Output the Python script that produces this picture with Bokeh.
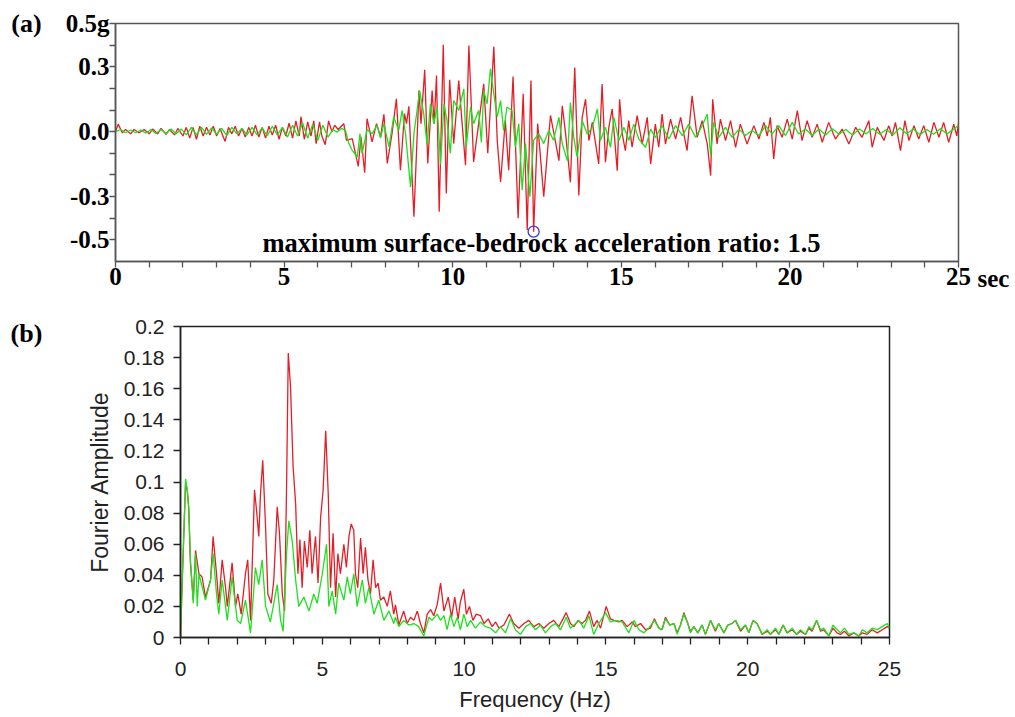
from bokeh.plotting import figure
from bokeh.models import Range1d, SingleIntervalTicker, CustomJSTickFormatter, Label
from bokeh.embed import file_html
from bokeh.resources import INLINE

RED = "#e41e26"
GREEN = "#1ee01e"

# (a) acceleration time histories, (time [s], acceleration [g]) turning points
surface_acc = [
    (0.00, 0.000), (0.08, 0.035), (0.20, -0.005), (0.30, 0.010), (0.45, -0.010), (0.55, 0.010),
    (0.70, -0.005), (0.85, 0.010), (1.00, -0.010), (1.10, 0.012), (1.25, -0.010), (1.35, 0.015),
    (1.50, -0.012), (1.60, 0.010), (1.75, -0.015), (1.85, 0.015), (2.00, -0.020), (2.10, 0.020),
    (2.20, -0.030), (2.30, 0.020), (2.40, -0.035), (2.50, 0.025), (2.60, -0.020), (2.70, 0.020),
    (2.80, -0.015), (2.90, 0.025), (3.00, -0.020), (3.10, 0.015), (3.25, -0.045), (3.35, 0.020),
    (3.45, -0.010), (3.55, 0.025), (3.65, -0.020), (3.75, 0.015), (3.85, -0.025), (3.95, 0.020),
    (4.05, -0.020), (4.15, 0.030), (4.25, -0.025), (4.35, 0.020), (4.45, -0.030), (4.55, 0.025),
    (4.65, -0.015), (4.75, 0.030), (4.85, -0.035), (4.95, 0.020), (5.05, -0.020), (5.15, 0.040),
    (5.25, -0.030), (5.35, 0.050), (5.45, -0.020), (5.50, 0.070), (5.60, -0.035), (5.70, 0.045),
    (5.80, -0.020), (5.88, 0.050), (5.95, -0.055), (6.05, 0.045), (6.12, -0.020), (6.22, -0.060),
    (6.32, 0.050), (6.42, 0.000), (6.50, 0.030), (6.60, 0.010), (6.77, 0.037), (6.85, -0.040),
    (7.02, -0.032), (7.20, -0.160), (7.28, -0.024), (7.39, -0.190), (7.46, 0.060), (7.61, -0.047),
    (7.74, 0.037), (7.86, -0.024), (7.96, 0.080), (8.06, -0.147), (8.20, -0.009), (8.33, 0.152),
    (8.45, -0.178), (8.57, 0.083), (8.63, 0.037), (8.70, 0.117), (8.85, -0.393), (9.00, 0.190),
    (9.06, 0.037), (9.17, 0.286), (9.26, -0.147), (9.39, 0.190), (9.45, 0.037), (9.52, 0.260),
    (9.60, -0.370), (9.72, 0.402), (9.81, -0.286), (9.91, 0.240), (10.03, -0.055), (10.18, 0.236),
    (10.28, 0.037), (10.38, -0.155), (10.48, 0.398), (10.62, -0.140), (10.77, 0.037), (10.92, 0.221),
    (11.04, -0.100), (11.22, 0.393), (11.32, -0.040), (11.42, -0.232), (11.56, 0.052), (11.66, -0.178),
    (11.79, 0.255), (11.94, -0.400), (12.09, 0.175), (12.21, -0.454), (12.32, 0.236), (12.40, -0.462),
    (12.52, 0.037), (12.70, -0.301), (12.90, 0.075), (13.04, -0.040), (13.15, -0.134), (13.25, 0.120),
    (13.35, -0.011), (13.49, -0.234), (13.62, 0.296), (13.74, -0.295), (13.84, 0.066), (13.94, 0.150),
    (14.04, -0.041), (14.14, 0.043), (14.33, -0.149), (14.43, 0.220), (14.53, -0.141), (14.63, 0.020),
    (14.73, 0.105), (14.88, -0.180), (14.95, 0.150), (15.03, -0.011), (15.12, -0.088), (15.22, 0.051),
    (15.32, -0.072), (15.47, 0.074), (15.62, -0.057), (15.77, 0.066), (15.87, -0.149), (16.01, 0.035),
    (16.11, -0.072), (16.21, 0.081), (16.31, -0.057), (16.46, 0.058), (16.61, -0.034), (16.76, 0.066),
    (16.95, -0.088), (17.10, 0.166), (17.25, -0.026), (17.40, 0.051), (17.55, -0.057), (17.65, -0.203),
    (17.71, 0.150), (17.84, -0.057), (17.94, 0.058), (18.09, -0.041), (18.24, 0.051), (18.39, -0.072),
    (18.53, 0.035), (18.73, -0.057), (18.93, 0.028), (19.08, -0.034), (19.23, 0.043), (19.33, -0.020),
    (19.42, 0.066), (19.52, -0.126), (19.62, 0.028), (19.77, -0.026), (19.92, 0.058), (20.07, -0.034),
    (20.22, 0.097), (20.36, -0.041), (20.51, 0.051), (20.66, -0.026), (20.81, 0.035), (20.96, -0.049),
    (21.15, 0.043), (21.35, -0.034), (21.55, 0.012), (21.75, -0.057), (21.95, 0.020), (22.14, -0.026),
    (22.34, 0.051), (22.44, -0.072), (22.59, 0.020), (22.79, -0.041), (22.93, 0.028), (23.03, -0.020),
    (23.13, 0.043), (23.28, -0.088), (23.41, 0.051), (23.53, -0.041), (23.68, 0.028), (23.82, -0.034),
    (23.97, 0.028), (24.12, -0.049), (24.27, 0.043), (24.42, -0.026), (24.56, 0.043), (24.71, -0.049),
    (24.86, 0.035), (24.95, -0.020), (25.00, 0.040),
]

bedrock_acc = [
    (0.00, 0.000), (0.15, 0.010), (0.30, -0.005), (0.45, 0.008), (0.60, -0.005), (0.75, 0.008),
    (0.90, -0.006), (1.05, 0.010), (1.20, -0.008), (1.35, 0.010), (1.50, -0.008), (1.65, 0.012),
    (1.80, -0.010), (1.95, 0.012), (2.10, -0.015), (2.25, 0.020), (2.40, -0.015), (2.55, 0.020),
    (2.70, -0.012), (2.85, 0.018), (3.00, -0.012), (3.15, 0.015), (3.30, -0.018), (3.45, 0.020),
    (3.60, -0.010), (3.75, 0.015), (3.90, -0.015), (4.05, 0.020), (4.20, -0.015), (4.35, 0.018),
    (4.50, -0.020), (4.65, 0.025), (4.80, -0.015), (4.95, 0.020), (5.10, -0.025), (5.25, 0.030),
    (5.40, -0.020), (5.55, 0.040), (5.70, -0.030), (5.85, 0.035), (6.00, -0.040), (6.15, 0.030),
    (6.30, -0.025), (6.45, 0.010), (6.57, -0.002), (6.70, 0.015), (6.82, 0.006), (6.92, -0.055),
    (7.02, -0.086), (7.17, -0.117), (7.25, -0.009), (7.31, -0.101), (7.46, 0.009), (7.61, -0.009),
    (7.76, 0.029), (7.86, -0.030), (7.96, 0.037), (8.11, -0.070), (8.25, 0.068), (8.40, 0.006),
    (8.50, 0.098), (8.60, -0.009), (8.75, -0.255), (8.85, -0.009), (8.95, 0.106), (9.02, 0.190),
    (9.14, 0.083), (9.24, -0.060), (9.34, 0.129), (9.44, 0.037), (9.54, 0.114), (9.64, -0.150),
    (9.74, 0.129), (9.83, 0.052), (9.93, -0.100), (10.03, 0.144), (10.18, 0.098), (10.33, 0.198),
    (10.40, -0.070), (10.53, 0.114), (10.62, 0.037), (10.77, 0.098), (10.85, -0.050), (10.92, 0.190),
    (11.02, 0.129), (11.12, 0.290), (11.22, 0.175), (11.32, 0.068), (11.42, 0.144), (11.51, 0.006),
    (11.61, 0.114), (11.76, 0.098), (11.86, -0.070), (11.96, 0.037), (12.06, -0.270), (12.16, -0.055),
    (12.29, -0.300), (12.40, -0.040), (12.55, -0.009), (12.70, -0.055), (12.85, 0.006), (12.99, -0.040),
    (13.15, 0.066), (13.25, -0.057), (13.40, -0.134), (13.49, 0.135), (13.59, -0.026), (13.69, -0.118),
    (13.84, 0.051), (13.99, -0.011), (14.14, 0.020), (14.29, 0.105), (14.38, -0.041), (14.53, 0.020),
    (14.68, -0.072), (14.78, 0.066), (14.93, -0.041), (15.08, 0.020), (15.22, -0.041), (15.37, 0.035),
    (15.52, -0.034), (15.72, -0.072), (15.87, 0.012), (16.01, -0.026), (16.21, 0.028), (16.41, -0.034),
    (16.61, 0.028), (16.81, -0.018), (17.00, 0.035), (17.20, -0.026), (17.40, 0.028), (17.55, 0.081),
    (17.65, -0.110), (17.74, 0.043), (17.89, -0.026), (18.09, 0.020), (18.29, -0.026), (18.49, 0.012),
    (18.68, -0.018), (18.88, 0.005), (19.08, -0.018), (19.28, 0.028), (19.47, -0.011), (19.67, 0.028),
    (19.87, -0.018), (20.07, 0.043), (20.26, -0.011), (20.46, 0.012), (20.66, -0.018), (20.86, 0.012),
    (21.06, -0.015), (21.26, 0.014), (21.46, -0.012), (21.66, 0.010), (21.86, -0.015), (22.06, 0.012),
    (22.26, -0.010), (22.46, 0.015), (22.66, -0.012), (22.86, 0.010), (23.06, -0.015), (23.26, 0.018),
    (23.46, -0.010), (23.66, 0.012), (23.86, -0.014), (24.06, 0.010), (24.26, -0.012), (24.46, 0.014),
    (24.66, -0.010), (24.86, 0.012), (25.00, 0.030),
]

peak_surface = (12.40, -0.462)
ratio_text = "maximum surface-bedrock acceleration ratio: 1.5"

# (b) Fourier amplitude spectra, (frequency [Hz], amplitude)
surface_fft = [
    (0.00, 0.000), (0.05, 0.030), (0.18, 0.100), (0.24, 0.094), (0.29, 0.083), (0.35, 0.048),
    (0.45, 0.024), (0.53, 0.056), (0.65, 0.041), (0.76, 0.039), (0.88, 0.026), (1.06, 0.037),
    (1.15, 0.065), (1.27, 0.041), (1.35, 0.022), (1.47, 0.050), (1.59, 0.032), (1.65, 0.020),
    (1.82, 0.048), (1.94, 0.020), (2.02, 0.028), (2.14, 0.015), (2.29, 0.041), (2.37, 0.050),
    (2.47, 0.011), (2.61, 0.095), (2.68, 0.082), (2.76, 0.065), (2.82, 0.092), (2.90, 0.114),
    (3.00, 0.071), (3.08, 0.028), (3.20, 0.022), (3.29, 0.037), (3.41, 0.084), (3.49, 0.067),
    (3.59, 0.028), (3.67, 0.017), (3.74, 0.097), (3.80, 0.183), (3.88, 0.161), (3.97, 0.110),
    (4.06, 0.086), (4.14, 0.041), (4.21, 0.063), (4.29, 0.032), (4.37, 0.062), (4.47, 0.045),
    (4.56, 0.069), (4.64, 0.041), (4.76, 0.065), (4.85, 0.035), (4.94, 0.077), (5.03, 0.095),
    (5.12, 0.133), (5.21, 0.092), (5.29, 0.032), (5.38, 0.067), (5.47, 0.026), (5.55, 0.054),
    (5.64, 0.041), (5.76, 0.060), (5.85, 0.045), (5.94, 0.065), (6.02, 0.073), (6.11, 0.069),
    (6.17, 0.041), (6.25, 0.032), (6.35, 0.064), (6.44, 0.041), (6.52, 0.058), (6.61, 0.037),
    (6.70, 0.028), (6.79, 0.050), (6.88, 0.032), (6.97, 0.035), (7.05, 0.024), (7.17, 0.026),
    (7.29, 0.020), (7.40, 0.030), (7.52, 0.015), (7.58, 0.021), (7.70, 0.008), (7.87, 0.017),
    (7.99, 0.009), (8.11, 0.013), (8.23, 0.011), (8.35, 0.017), (8.46, 0.009), (8.58, 0.003),
    (8.70, 0.015), (8.82, 0.018), (8.93, 0.014), (9.05, 0.021), (9.17, 0.035), (9.29, 0.017),
    (9.44, 0.026), (9.56, 0.013), (9.67, 0.026), (9.79, 0.012), (9.87, 0.023), (9.99, 0.031),
    (10.08, 0.015), (10.19, 0.020), (10.31, 0.011), (10.43, 0.015), (10.58, 0.014), (10.70, 0.009),
    (10.85, 0.012), (10.99, 0.007), (11.11, 0.010), (11.23, 0.006), (11.40, 0.008), (11.60, 0.015),
    (11.75, 0.009), (11.93, 0.006), (12.11, 0.009), (12.28, 0.011), (12.46, 0.007), (12.64, 0.009),
    (12.81, 0.006), (12.99, 0.009), (13.16, 0.011), (13.34, 0.007), (13.46, 0.011), (13.60, 0.016),
    (13.75, 0.009), (13.87, 0.007), (14.02, 0.011), (14.16, 0.009), (14.28, 0.011), (14.42, 0.017),
    (14.57, 0.007), (14.69, 0.011), (14.81, 0.006), (15.01, 0.020), (15.16, 0.012), (15.28, 0.011),
    (15.46, 0.010), (15.57, 0.011), (15.75, 0.007), (15.93, 0.010), (16.04, 0.007), (16.22, 0.009),
    (16.40, 0.005), (16.57, 0.006), (16.71, 0.012), (16.87, 0.006), (16.98, 0.005), (17.10, 0.013),
    (17.25, 0.008), (17.40, 0.009), (17.51, 0.003), (17.63, 0.008), (17.75, 0.016), (17.87, 0.010),
    (17.98, 0.004), (18.10, 0.007), (18.24, 0.003), (18.39, 0.008), (18.51, 0.002), (18.69, 0.011),
    (18.86, 0.004), (18.98, 0.009), (19.16, 0.003), (19.30, 0.008), (19.45, 0.009), (19.57, 0.011),
    (19.75, 0.004), (19.92, 0.008), (20.04, 0.003), (20.19, 0.011), (20.33, 0.009), (20.51, 0.002),
    (20.69, 0.004), (20.80, 0.002), (20.98, 0.005), (21.10, 0.002), (21.25, 0.008), (21.39, 0.003),
    (21.57, 0.005), (21.72, 0.002), (21.86, 0.004), (22.04, 0.002), (22.16, 0.006), (22.27, 0.004),
    (22.43, 0.011), (22.57, 0.004), (22.68, 0.005), (22.86, 0.001), (23.01, 0.006), (23.15, 0.003),
    (23.27, 0.002), (23.41, 0.004), (23.57, 0.001), (23.74, 0.003), (23.92, 0.001), (24.04, 0.003),
    (24.21, 0.002), (24.39, 0.005), (24.57, 0.003), (24.74, 0.005), (24.92, 0.007), (25.00, 0.006),
]

bedrock_fft = [
    (0.00, 0.000), (0.05, 0.030), (0.18, 0.102), (0.24, 0.095), (0.29, 0.084), (0.35, 0.050),
    (0.45, 0.022), (0.53, 0.054), (0.59, 0.020), (0.65, 0.041), (0.73, 0.035), (0.88, 0.024),
    (1.06, 0.037), (1.15, 0.054), (1.27, 0.028), (1.35, 0.015), (1.47, 0.037), (1.65, 0.011),
    (1.82, 0.039), (2.00, 0.011), (2.12, 0.009), (2.29, 0.024), (2.47, 0.003), (2.59, 0.032),
    (2.64, 0.045), (2.76, 0.034), (2.88, 0.050), (3.00, 0.020), (3.17, 0.010), (3.41, 0.034),
    (3.53, 0.011), (3.62, 0.004), (3.74, 0.054), (3.82, 0.075), (3.94, 0.062), (4.06, 0.037),
    (4.17, 0.020), (4.35, 0.026), (4.53, 0.017), (4.70, 0.028), (4.82, 0.022), (5.00, 0.041),
    (5.15, 0.060), (5.23, 0.020), (5.35, 0.030), (5.47, 0.015), (5.58, 0.035), (5.76, 0.024),
    (5.88, 0.039), (5.99, 0.028), (6.11, 0.041), (6.23, 0.020), (6.41, 0.037), (6.52, 0.022),
    (6.64, 0.032), (6.82, 0.015), (6.99, 0.024), (7.17, 0.011), (7.35, 0.017), (7.52, 0.009),
    (7.58, 0.013), (7.70, 0.007), (7.87, 0.011), (8.05, 0.008), (8.23, 0.009), (8.40, 0.007),
    (8.58, 0.001), (8.76, 0.013), (8.87, 0.011), (9.05, 0.015), (9.17, 0.011), (9.29, 0.014),
    (9.40, 0.005), (9.52, 0.015), (9.64, 0.007), (9.76, 0.013), (9.87, 0.005), (9.99, 0.015),
    (10.11, 0.007), (10.23, 0.011), (10.40, 0.006), (10.58, 0.010), (10.75, 0.007), (10.93, 0.006),
    (11.11, 0.003), (11.28, 0.007), (11.46, 0.003), (11.64, 0.012), (11.81, 0.005), (11.99, 0.002),
    (12.17, 0.007), (12.34, 0.009), (12.52, 0.005), (12.69, 0.008), (12.87, 0.003), (13.05, 0.007),
    (13.22, 0.009), (13.40, 0.005), (13.60, 0.013), (13.75, 0.006), (13.93, 0.009), (14.05, 0.011),
    (14.22, 0.006), (14.40, 0.014), (14.57, 0.002), (14.75, 0.009), (14.99, 0.016), (15.16, 0.010),
    (15.34, 0.011), (15.57, 0.010), (15.81, 0.003), (15.99, 0.011), (16.16, 0.005), (16.34, 0.003),
    (16.51, 0.006), (16.71, 0.011), (16.87, 0.006), (16.98, 0.005), (17.10, 0.012), (17.25, 0.008),
    (17.40, 0.009), (17.51, 0.002), (17.63, 0.008), (17.75, 0.015), (17.87, 0.010), (17.98, 0.003),
    (18.10, 0.007), (18.24, 0.003), (18.39, 0.008), (18.51, 0.002), (18.69, 0.011), (18.86, 0.005),
    (18.98, 0.009), (19.16, 0.003), (19.30, 0.008), (19.45, 0.009), (19.57, 0.011), (19.75, 0.005),
    (19.92, 0.008), (20.04, 0.003), (20.19, 0.011), (20.33, 0.009), (20.51, 0.002), (20.69, 0.005),
    (20.80, 0.002), (20.98, 0.006), (21.10, 0.002), (21.25, 0.008), (21.39, 0.003), (21.57, 0.006),
    (21.72, 0.002), (21.86, 0.005), (22.04, 0.002), (22.16, 0.007), (22.27, 0.005), (22.43, 0.011),
    (22.57, 0.005), (22.68, 0.006), (22.86, 0.001), (23.01, 0.008), (23.15, 0.005), (23.27, 0.003),
    (23.41, 0.006), (23.57, 0.002), (23.74, 0.003), (23.92, 0.001), (24.04, 0.005), (24.21, 0.003),
    (24.39, 0.006), (24.57, 0.005), (24.74, 0.007), (24.92, 0.009), (25.00, 0.006),
]

SERIF = "Liberation Serif"
SANS = "Liberation Sans"


def unzip(pairs):
    return [a for a, _ in pairs], [b for _, b in pairs]


# ---------------- panel (a) ----------------
p1 = figure(width=1015, height=300, title=None, output_backend="svg", toolbar_location=None,
            x_range=Range1d(0, 25), y_range=Range1d(-0.6, 0.5),
            min_border_left=115, min_border_right=57, min_border_top=23, min_border_bottom=39)
p1.grid.visible = False
p1.outline_line_color = "#555555"
p1.outline_line_width = 1.5

tx, ty = unzip(surface_acc)
p1.line(tx, ty, line_color=RED, line_width=1.3)
bx, by = unzip(bedrock_acc)
p1.line(bx, by, line_color=GREEN, line_width=1.3)
p1.scatter([peak_surface[0]], [peak_surface[1]], size=11, marker="circle",
           fill_color=None, line_color="#3a3ad8", line_width=1.3)

for ax in (p1.xaxis[0], p1.yaxis[0]):
    ax.axis_line_color = "#555555"
    ax.axis_line_width = 1.5
    ax.major_tick_line_color = "#555555"
    ax.major_tick_line_width = 1.3
    ax.major_tick_in = 0
    ax.major_tick_out = 6
    ax.minor_tick_line_color = None
    ax.major_label_text_font = SERIF
    ax.major_label_text_font_style = "bold"
    ax.major_label_text_font_size = "25px"
    ax.major_label_text_color = "black"

p1.xaxis.ticker = SingleIntervalTicker(interval=1, num_minor_ticks=0)
p1.xaxis.formatter = CustomJSTickFormatter(
    code="const k = Math.round(tick); return (k % 5 === 0) ? String(k) : '';")
p1.xaxis.major_label_standoff = 0
p1.yaxis.ticker = SingleIntervalTicker(interval=0.1, num_minor_ticks=0)
p1.yaxis.formatter = CustomJSTickFormatter(code="""
const k = Math.round(tick * 10);
const m = {"5": "0.5g", "3": "0.3", "0": "0.0", "-3": "-0.3", "-5": "-0.5"};
const s = m[String(k)];
return s === undefined ? "" : s;
""")
p1.yaxis.major_label_standoff = 0

p1.add_layout(Label(x=-2.64, y=0.502, text="(a)", text_font=SERIF, text_font_style="bold",
                    text_font_size="26px", text_color="black", text_align="center",
                    text_baseline="middle"), "left")
p1.add_layout(Label(x=4.36, y=-0.516, text=ratio_text, text_font=SERIF, text_font_style="bold",
                    text_font_size="26.5px", text_color="black", text_align="left",
                    text_baseline="alphabetic"))
p1.add_layout(Label(x=25, y=-0.6, x_offset=19, y_offset=-17, text="sec", text_font=SERIF,
                    text_font_style="bold", text_font_size="25px", text_color="black",
                    text_align="left", text_baseline="alphabetic"), "right")

# ---------------- panel (b) ----------------
p2 = figure(width=1015, height=417, title=None, output_backend="svg", toolbar_location=None,
            x_range=Range1d(0, 25), y_range=Range1d(0, 0.2),
            min_border_left=180, min_border_right=126, min_border_top=26, min_border_bottom=80)
p2.grid.visible = False
p2.outline_line_color = "#222222"
p2.outline_line_width = 1.5

fx, fy = unzip(surface_fft)
p2.line(fx, fy, line_color=RED, line_width=1.3)
gx, gy = unzip(bedrock_fft)
p2.line(gx, gy, line_color=GREEN, line_width=1.3)

for ax in (p2.xaxis[0], p2.yaxis[0]):
    ax.axis_line_color = "#222222"
    ax.axis_line_width = 1.5
    ax.major_tick_line_color = "#222222"
    ax.major_tick_line_width = 1.3
    ax.major_tick_in = 0
    ax.major_tick_out = 7
    ax.minor_tick_line_color = None
    ax.major_label_text_font = SANS
    ax.major_label_text_font_size = "21px"
    ax.major_label_text_color = "#222222"
    ax.axis_label_text_font = SANS
    ax.axis_label_text_font_style = "normal"
    ax.axis_label_text_color = "#222222"

p2.xaxis.ticker = SingleIntervalTicker(interval=1, num_minor_ticks=0)
p2.xaxis.formatter = CustomJSTickFormatter(
    code="const k = Math.round(tick); return (k % 5 === 0) ? String(k) : '';")
p2.xaxis.major_label_standoff = 17
p2.xaxis.axis_label = "Frequency (Hz)"
p2.xaxis.axis_label_text_font_size = "22px"
p2.xaxis.axis_label_standoff = 8
p2.yaxis.ticker = SingleIntervalTicker(interval=0.02, num_minor_ticks=0)
p2.yaxis.formatter = CustomJSTickFormatter(
    code="return String(Math.round(tick * 100) / 100);")
p2.yaxis.major_label_standoff = 9
p2.yaxis.axis_label = "Fourier Amplitude"
p2.yaxis.axis_label_text_font_size = "23px"
p2.yaxis.axis_label_standoff = 8

p2.add_layout(Label(x=-5.43, y=0.1955, text="(b)", text_font=SERIF, text_font_style="bold",
                    text_font_size="26px", text_color="black", text_align="center",
                    text_baseline="middle"), "left")

open("out.html", "w").write(file_html([p1, p2], INLINE))
